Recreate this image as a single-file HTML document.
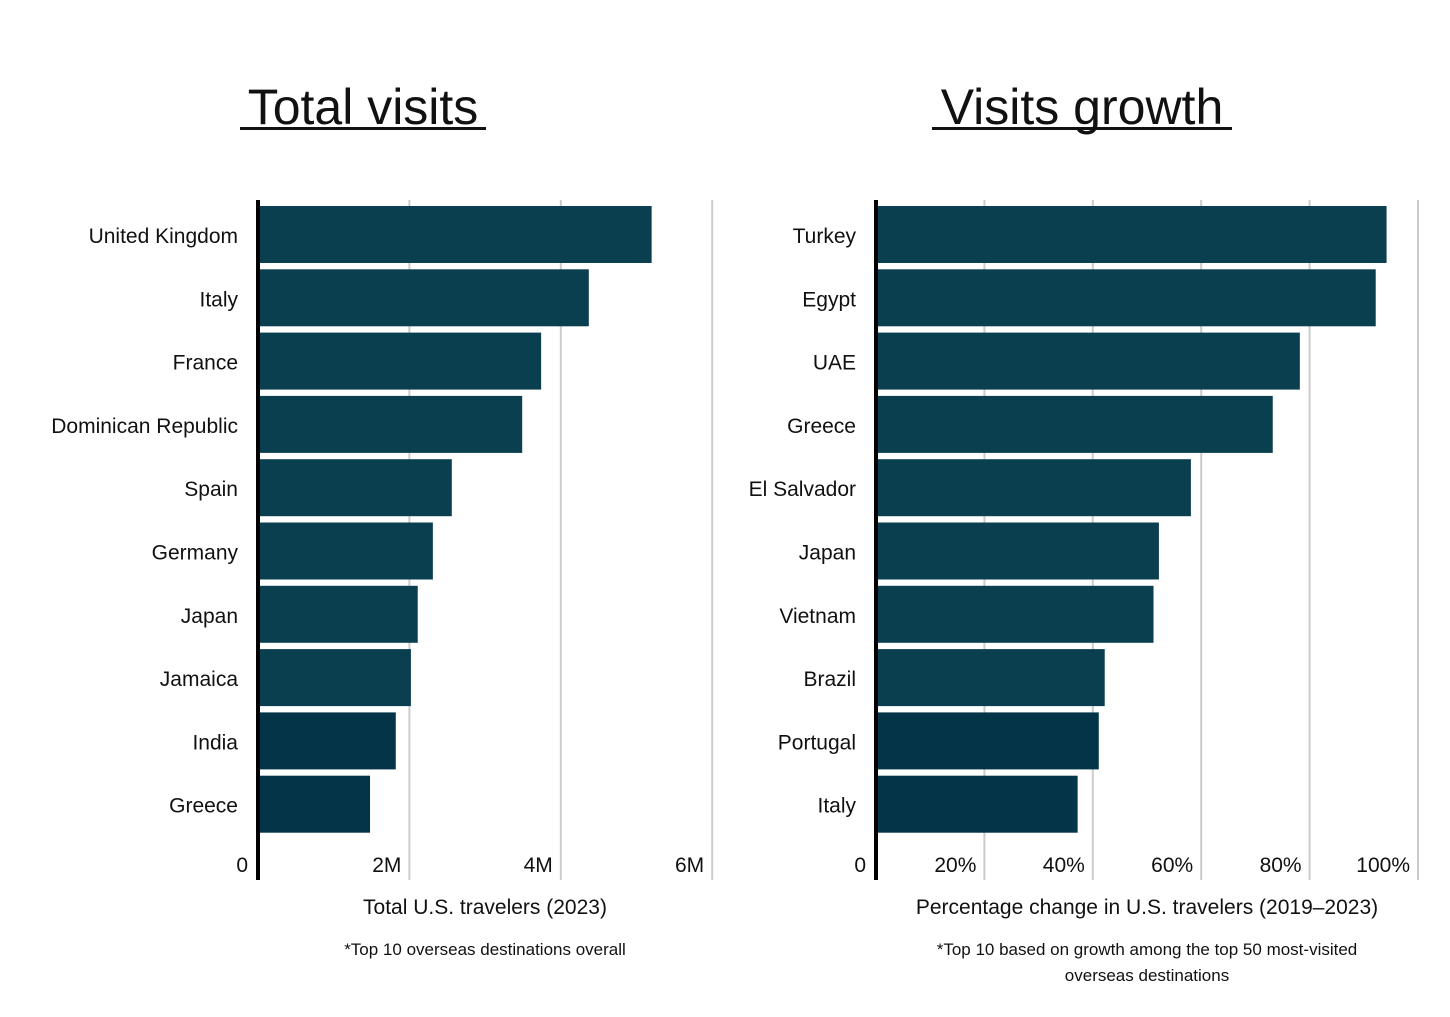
<!DOCTYPE html>
<html><head><meta charset="utf-8"><style>
body{margin:0;background:#fff;font-family:"Liberation Sans",sans-serif;}
svg text{font-family:"Liberation Sans",sans-serif;fill:#111;}
</style></head><body>
<svg width="1450" height="1012" viewBox="0 0 1450 1012">
<g id="root"></g>
</svg>
<script>
const leftCats=["United Kingdom","Italy","France","Dominican Republic","Spain","Germany","Japan","Jamaica","India","Greece"];
const leftVals=[5.2,4.37,3.74,3.49,2.56,2.31,2.11,2.02,1.82,1.48];
const leftTicks=[0,2,4,6];
const leftTickLabels=["0","2M","4M","6M"];
const rightCats=["Turkey","Egypt","UAE","Greece","El Salvador","Japan","Vietnam","Brazil","Portugal","Italy"];
const rightVals=[94.2,92.2,78.2,73.2,58.1,52.2,51.2,42.2,41.1,37.2];
const rightTicks=[0,20,40,60,80,100];
const rightTickLabels=["0","20%","40%","60%","80%","100%"];
const NS="http://www.w3.org/2000/svg";
const root=document.getElementById('root');
function mk(tag,attrs,parent){const e=document.createElementNS(NS,tag);for(const k in attrs)e.setAttribute(k,attrs[k]);(parent||root).appendChild(e);return e;}
function panel(cfg){
  const g=mk('g',{});
  
  
  const x=v=>cfg.x0+v*cfg.scale;
  const y=i=>206+i*63.3;
  const t=mk('text',{x:cfg.titleX,y:124,'font-size':50,'text-anchor':'middle'},g);
  t.textContent=cfg.title;
  
  
  const u=mk('rect',{x:cfg.titleX-cfg.titleW/2,y:127,width:cfg.titleW,height:3,fill:'#111'},g);
  
  
  cfg.ticks.forEach((tv,i)=>{
    if(tv>0){const l=mk('rect',{x:x(tv)-1,y:200,width:2,height:680,fill:'#cccccc'},g);
    
    }
    const tl=mk('text',{x:tv>0?x(tv)-8:x(tv)-10,y:872,'font-size':21,'text-anchor':'end'},g);
    tl.textContent=cfg.tickLabels[i];
    
    
  });
  cfg.vals.forEach((v,i)=>{
    const b=mk('rect',{x:cfg.x0+2,y:y(i),width:x(v)-cfg.x0-2,height:57,fill:i>=8?'#033447':'#0a3f4f'},g);
    
    
    const lb=mk('text',{x:cfg.x0-20,y:y(i)+37,'font-size':21,'text-anchor':'end'},g);
    lb.textContent=cfg.cats[i];
    
    
  });
  const ax=mk('rect',{x:cfg.x0-2,y:200,width:4,height:680,fill:'#000'},g);
  
  
  const xt=mk('text',{x:cfg.noteX,y:914,'font-size':21,'text-anchor':'middle'},g);
  xt.textContent=cfg.axisTitle;
  
  
  cfg.notes.forEach((n,i)=>{
    const nt=mk('text',{x:cfg.noteX,y:955+i*26,'font-size':17,'text-anchor':'middle'},g);
    nt.textContent=n;
    
    
  });
}
panel({name:'total-visits-chart',x0:258,scale:75.7,title:'Total visits',titleX:363,titleW:246,cats:leftCats,vals:leftVals,ticks:leftTicks,tickLabels:leftTickLabels,axisTitle:'Total U.S. travelers (2023)',noteX:485,notes:['*Top 10 overseas destinations overall']});
panel({name:'visits-growth-chart',x0:876,scale:5.42,title:'Visits growth',titleX:1082,titleW:300,cats:rightCats,vals:rightVals,ticks:rightTicks,tickLabels:rightTickLabels,axisTitle:'Percentage change in U.S. travelers (2019–2023)',noteX:1147,notes:['*Top 10 based on growth among the top 50 most-visited','overseas destinations']});
</script>
</body></html>
